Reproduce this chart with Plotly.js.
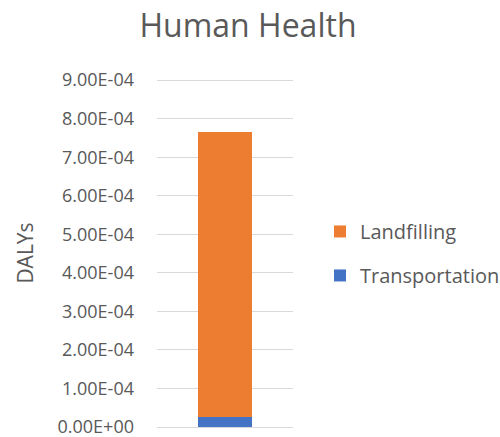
<!DOCTYPE html>
<html>
<head>
<meta charset="utf-8">
<script src="https://cdn.plot.ly/plotly-3.0.1.min.js"></script>
<style>html,body{margin:0;padding:0;background:#fff;}#chart{width:500px;height:437px;}</style>
</head>
<body>
<div id="chart"></div>
<script>
const categories = ["Human Health"];
const transportation = [2.7e-5];
const landfilling = [7.39e-4];
const tickVals = [0, 1e-4, 2e-4, 3e-4, 4e-4, 5e-4, 6e-4, 7e-4, 8e-4, 9e-4];
const tickText = ["0.00E+00","1.00E-04","2.00E-04","3.00E-04","4.00E-04","5.00E-04","6.00E-04","7.00E-04","8.00E-04","9.00E-04"];

const font = "Open Sans, Liberation Sans, sans-serif";
const data = [
  {type: "bar", name: "Transportation", legendgroup: "t", legendrank: 2, x: categories, y: transportation, marker: {color: "#4472C4"}, width: 0.4},
  {type: "bar", name: "Landfilling", legendgroup: "l", legendrank: 1, x: categories, y: landfilling, marker: {color: "#ED7D31"}, width: 0.4}
];
const layout = {
  width: 500, height: 437,
  margin: {l: 157, r: 207, t: 79, b: 10},
  paper_bgcolor: "#fff", plot_bgcolor: "#fff",
  barmode: "stack",
  showlegend: true,
  title: {text: "Human Health", font: {family: font, size: 32, color: "#595959"}, x: 0.496, xanchor: "center", y: 0.94, yanchor: "middle"},
  xaxis: {showticklabels: false, showgrid: false, zeroline: false, showline: false, ticks: ""},
  yaxis: {
    range: [0, 9.03e-4], tickvals: tickVals, ticktext: tickText,
    tickfont: {family: font, size: 18, color: "#595959"},
    gridcolor: "#d9d9d9", gridwidth: 1, zeroline: true, zerolinecolor: "#d9d9d9", zerolinewidth: 1,
    showline: false, ticks: "", ticklabelstandoff: 22, ticklabeloverflow: "allow",
    title: {text: "DALYs", font: {family: font, size: 21, color: "#595959"}, standoff: 18}
  },
  legend: {xref: "container", yref: "container", x: 0.64, xanchor: "left", y: 0.42, yanchor: "middle", traceorder: "grouped",
    font: {family: font, size: 20, color: "#595959"}, itemwidth: 30, tracegroupgap: 15, bgcolor: "rgba(0,0,0,0)"}
};
Plotly.newPlot("chart", data, layout, {displayModeBar: false, staticPlot: true});
</script>
</body>
</html>
